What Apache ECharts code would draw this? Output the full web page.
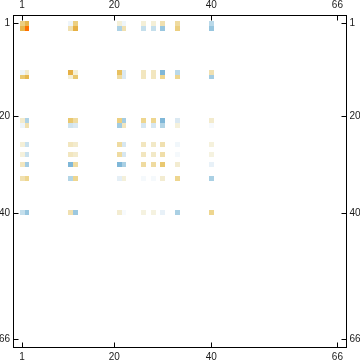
<!DOCTYPE html>
<html><head><meta charset="utf-8">
<style>html,body{margin:0;padding:0;background:#fff}#c{width:360px;height:363px}</style>
<script src="https://cdn.jsdelivr.net/npm/echarts@6/dist/echarts.min.js"></script>
</head><body><div id="c"></div>
<script>
const tickLabels = [1, 20, 40, 66];
const rowsIdx = [1, 2, 11, 12, 21, 22, 26, 28, 30, 33, 40];
const colsIdx = [1, 2, 11, 12, 21, 22, 26, 28, 30, 33, 40];
const row1  = [.45, .6, -.1, .45, .15, -.1, .15, .15, .3, .35, -.35];
const row2  = [.6, 1, .3, .65, -.4, .3, -.3, -.3, -.5, .45, -.5];
const row11 = [-.1, .2, .65, .15, .55, -.2, .25, .25, -.6, -.35, .3];
const row12 = [.5, .6, .15, .5, .35, -.2, .25, .25, .4, .4, -.45];
const row21 = [.2, -.4, .5, .35, .45, -.45, .4, .4, -.6, -.2, .2];
const row22 = [-.1, .3, -.25, -.2, -.45, .25, -.22, -.22, -.38, .12, -.05];
const row26 = [.15, -.28, .25, .2, .35, -.22, .25, .22, .3, -.08, .12];
const row28 = [.12, -.28, .25, .2, .35, -.22, .25, .22, .32, -.06, .1];
const row30 = [.25, -.45, -.6, .35, -.6, -.42, .35, .35, .5, .18, -.13];
const row33 = [.3, .4, -.38, .4, -.15, .13, -.06, -.06, .18, .4, -.42];
const row40 = [-.3, -.5, .3, -.48, .18, -.05, .1, .1, -.13, -.42, .4];
const matrix = [row1, row2, row11, row12, row21, row22, row26, row28, row30, row33, row40];

const cells = [];
matrix.forEach((r, i) => r.forEach((v, j) => cells.push([colsIdx[j], rowsIdx[i], v])));

const axisBase = (min, max, margin) => ({
  type: 'value', min, max,
  axisLine: {show: true, onZero: false, lineStyle: {color: '#000', width: 1}},
  axisTick: {show: true, inside: true, length: 5, lineStyle: {color: '#000', width: 1},
    customValues: tickLabels},
  axisLabel: {show: true, color: '#1a1a1a', fontSize: 10, fontFamily: 'Liberation Sans', margin,
    customValues: tickLabels, hideOverlap: false},
  splitLine: {show: false}
});
const chart = echarts.init(document.getElementById('c'), null, {renderer: 'canvas'});
chart.setOption({
  animation: false,
  backgroundColor: '#fff',
  grid: {left: 13.5, right: 13.5, top: 15.5, bottom: 15.5, outerBoundsMode: 'none'},
  xAxis: [
    Object.assign(axisBase(-0.78, 67.88, 5), {position: 'bottom'}),
    Object.assign(axisBase(-0.78, 67.88, 5), {position: 'top'})
  ],
  yAxis: [
    Object.assign(axisBase(-0.7, 67.8, 3.5), {position: 'left', inverse: true}),
    Object.assign(axisBase(-0.7, 67.8, 3), {position: 'right', inverse: true})
  ],
  visualMap: {
    show: false, type: 'continuous', min: -1, max: 1, dimension: 2, seriesIndex: 0,
    inRange: {color: ['#3f93c4', '#55a0cb', '#60a6ce', '#6aaad0', '#7fb7d8', '#98c6df', '#aed2e5', '#c5dfec', '#dbe9f2', '#eef5fa', '#ffffff',
                      '#f5f2e0', '#f3ebcd', '#f0e0b0', '#eed68f', '#e9c870', '#e6b74e', '#e5a93a', '#ea9a25', '#f38a14', '#ff7000']}
  },
  series: [{
    type: 'custom',
    xAxisIndex: 0, yAxisIndex: 0,
    encode: {x: 0, y: 1},
    data: cells,
    renderItem(params, api) {
      const a = api.coord([api.value(0) - .5, api.value(1) - .5]);
      const b = api.coord([api.value(0) + .5, api.value(1) + .5]);
      const x0 = Math.round(a[0]), y0 = Math.round(a[1]);
      return {type: 'rect',
        shape: {x: x0, y: y0, width: Math.round(b[0]) - x0, height: Math.round(b[1]) - y0},
        style: {fill: api.visual('color')}};
    }
  }]
});
</script></body></html>
